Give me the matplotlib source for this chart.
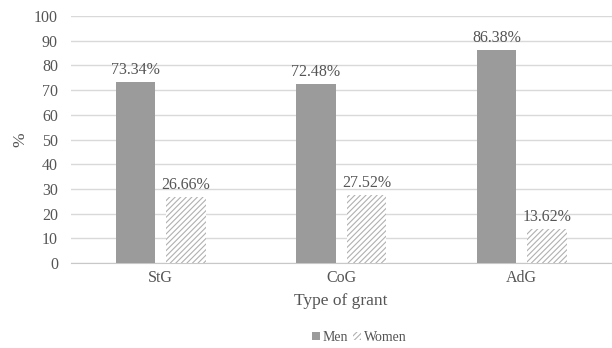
import matplotlib
matplotlib.use("Agg")
import matplotlib.pyplot as plt
import numpy as np

categories = ["StG", "CoG", "AdG"]
men = [73.34, 72.48, 86.38]
women = [26.66, 27.52, 13.62]

plt.rcParams['font.family'] = ['Liberation Serif', 'DejaVu Serif']
plt.rcParams['hatch.color'] = '#a8a8a8'
plt.rcParams['hatch.linewidth'] = 0.8

txt = '#555555'
fig = plt.figure(figsize=(6.12, 3.48), dpi=100)
ax = fig.add_axes([70.5 / 612, 1 - 263 / 348, 1 - 70.5 / 612, 247 / 348])

x = np.arange(len(categories))
w = 0.22
off = 0.14
b1 = ax.bar(x - off, men, w, color='#9b9b9b', label='Men', zorder=3)
b2 = ax.bar(x + off, women, w, color='white', hatch='//////', edgecolor='#b0b0b0', linewidth=0, label='Women', zorder=3)

for rect, v in zip(b1, men):
    ax.text(rect.get_x() + rect.get_width() / 2, v + 1.6, f"{v:.2f}%", ha='center', va='bottom', fontsize=11.5, color=txt)
for rect, v in zip(b2, women):
    ax.text(rect.get_x() + rect.get_width() / 2, v + 1.6, f"{v:.2f}%", ha='center', va='bottom', fontsize=11.5, color=txt)

ax.set_xlim(-0.5, 2.5)
ax.set_ylim(0, 100)
ax.set_yticks(range(0, 101, 10))
ax.yaxis.grid(True, color='#d9d9d9', linewidth=1, zorder=0)
ax.set_axisbelow(True)
for s in ['top', 'right', 'left']:
    ax.spines[s].set_visible(False)
ax.spines['bottom'].set_color('#c8c8c8')
ax.tick_params(axis='both', length=0, labelsize=11.5, colors=txt)
ax.tick_params(axis='y', pad=9)
ax.tick_params(axis='x', pad=5)
ax.set_xticks(x)
ax.set_xticklabels(categories)
ax.set_xlabel("Type of grant", fontsize=12.5, color=txt, labelpad=5)
ax.set_ylabel("%", fontsize=12.5, color=txt, labelpad=4)

fig.legend(handles=[b1, b2], labels=['Men', 'Women'], loc='center', bbox_to_anchor=(0.587, 0.03), ncol=2, frameon=False,
           fontsize=10, handlelength=0.55, handleheight=0.55, columnspacing=0.4, handletextpad=0.2, labelcolor=txt)

fig.savefig("out.png", dpi=100)
